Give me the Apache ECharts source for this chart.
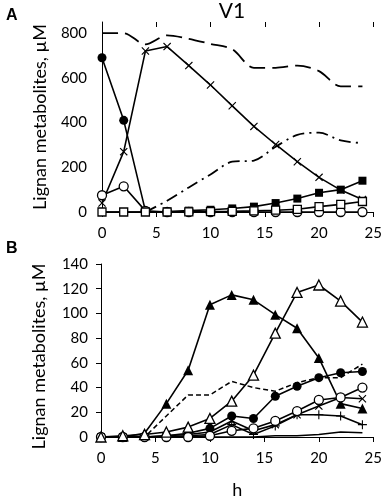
<!DOCTYPE html>
<html><head><meta charset="utf-8">
<script src="https://cdn.jsdelivr.net/npm/echarts@6/dist/echarts.min.js"></script>
<style>html,body{margin:0;padding:0;background:#fff}#c{width:385px;height:500px}</style>
</head><body><div id="c"></div>
<script>
var hours = [0,2,4,6,8,10,12,14,16,18,20,22,24];
var xTicks = [0,5,10,15,20,25];
var yTicksA = [0,200,400,600,800];
var yTicksB = [0,20,40,60,80,100,120,140];

// Panel A
var A_dashed      = [800,800,750,790,775,752,728,645,645,655,630,562,562];
var A_dashdot     = [null,null,0,50,110,168,225,230,292,345,355,320,308];
var A_cross       = [40,270,720,740,655,568,475,383,302,225,155,98,56];
var A_filledCirc  = [690,410,5,null,null,null,null,null,null,null,null,null,null];
var A_openCirc    = [75,115,5,0,0,0,0,0,0,0,0,0,0];
var A_filledSq    = [0,0,0,2,6,10,16,24,40,60,86,100,140];
var A_openSq      = [0,0,0,0,1,2,3,5,8,12,24,34,47];

// Panel B
var B_filledTri   = [0,0,3,27,54,107,115,111,99,88,64,27,23];
var B_openTri     = [0,1,2,4,8,15,29,50,84,117,123,110,93];
var B_dashed      = [0,0,0,17,34,34,45,40,37,44,48,48,59];
var B_filledCirc  = [0,0,0,1,3,7,17,15,33,41,48,52,53];
var B_openCirc    = [0,0,0,0,0,1,5,7,13,21,30,32,40];
var B_cross       = [0,0,0,1,2,4,13,5,10,18,25,32,31];
var B_plus        = [0,0,0,0,1,2,10,2,9,18,18,17,10];
var B_line        = [0,0,0,0,0,0,0,0,1,1,2,4,3.5];

var CROSS = 'path://M0,1L1,0L5,4L9,0L10,1L6,5L10,9L9,10L5,6L1,10L0,9L4,5Z';
var PLUS = 'path://M4.4,0H5.6V4.4H10V5.6H5.6V10H4.4V5.6H0V4.4H4.4Z';

function pairs(arr){ return hours.map(function(h,i){ return [h, arr[i]]; }); }

function ser(idx, arr, opt){
  return {
    type:'line', xAxisIndex: idx, yAxisIndex: idx, data: pairs(arr),
    symbol: opt.symbol || 'none', symbolSize: opt.size || 8,
    connectNulls: false, smooth: opt.smooth || false,
    lineStyle: {color:'#000', width: opt.width || 1.6, type: opt.dash || 'solid'},
    itemStyle: {color: opt.open ? '#fff' : '#000', borderColor:'#000', borderWidth: opt.open ? 1.3 : 0},
    emphasis: {disabled: true}, animation: false, z: opt.z || 2
  };
}

var font = 'Lato, "Liberation Sans", sans-serif';
var lab = {color:'#000', fontSize:15, fontFamily: font};

var chart = echarts.init(document.getElementById('c'));
chart.setOption({
  animation: false,
  title: [
    {text:'V1', left:227, top:-4, textAlign:'center', textStyle:{fontSize:21, fontWeight:'normal', color:'#000', fontFamily:font}},
    {text:'A', left:1, top:3, textStyle:{fontSize:16, fontWeight:'bold', color:'#000', fontFamily:'"Liberation Sans", Arial, sans-serif'}},
    {text:'B', left:1, top:236, textStyle:{fontSize:16, fontWeight:'bold', color:'#000', fontFamily:'"Liberation Sans", Arial, sans-serif'}}
  ],
  grid: [
    {left:102, top:22, width:274, height:190},
    {left:101, top:264, width:274, height:193}
  ],
  xAxis: [
    {gridIndex:0, type:'value', min:0, max:25, interval:5, axisLine:{lineStyle:{color:'#000'}},
     axisTick:{length:5, lineStyle:{color:'#000'}}, axisLabel:Object.assign({margin:14}, lab), splitLine:{show:false}},
    {gridIndex:1, type:'value', min:0, max:25, interval:5, name:'h', nameLocation:'middle', nameGap:44,
     nameTextStyle:{color:'#000', fontSize:18, fontFamily:font},
     axisLine:{lineStyle:{color:'#000'}},
     axisTick:{length:5, lineStyle:{color:'#000'}}, axisLabel:Object.assign({margin:14}, lab), splitLine:{show:false}},
    {gridIndex:0, type:'value', min:0, max:25, interval:5, axisLine:{show:false},
     axisTick:{inside:true, length:5, lineStyle:{color:'#000'}}, axisLabel:{show:false}, splitLine:{show:false}}
  ],
  yAxis: [
    {gridIndex:0, type:'value', min:0, max:850, interval:200, name:'Lignan metabolites, µM', nameLocation:'middle', nameGap:53,
     nameTextStyle:{color:'#000', fontSize:18, fontFamily:font},
     axisLine:{show:true, lineStyle:{color:'#000'}}, axisTick:{show:false},
     axisLabel:Object.assign({margin:15, showMaxLabel:false}, lab), splitLine:{show:false}},
    {gridIndex:1, type:'value', min:0, max:140, interval:20, name:'Lignan metabolites, µM', nameLocation:'middle', nameGap:53,
     nameTextStyle:{color:'#000', fontSize:18, fontFamily:font, padding:[0,0,0,-12]},
     axisLine:{show:true, lineStyle:{color:'#000'}}, axisTick:{show:true, length:5, lineStyle:{color:'#000'}},
     axisLabel:Object.assign({margin:13}, lab), splitLine:{show:false}}
  ],
  series: [
    ser(0, A_dashed, {dash:[16,7], width:1.8, smooth:0.3}),
    ser(0, A_dashdot, {dash:[12,5,2,5], width:1.8, smooth:0.3}),
    ser(0, A_cross, {symbol:CROSS, size:8}),
    ser(0, A_filledCirc, {symbol:'circle', size:9}),
    ser(0, A_openCirc, {symbol:'circle', size:9, open:true, z:3}),
    ser(0, A_filledSq, {symbol:'rect', size:8}),
    ser(0, A_openSq, {symbol:'rect', size:8, open:true, z:3}),

    ser(1, B_line, {}),
    ser(1, B_plus, {symbol:PLUS, size:9}),
    ser(1, B_cross, {symbol:CROSS, size:8}),
    ser(1, B_dashed, {dash:[5,3], width:1.5}),
    ser(1, B_filledCirc, {symbol:'circle', size:9}),
    ser(1, B_openCirc, {symbol:'circle', size:9, open:true, z:3}),
    ser(1, B_openTri, {symbol:'triangle', size:10, open:true, z:3}),
    ser(1, B_filledTri, {symbol:'triangle', size:10})
  ]
});
</script></body></html>
